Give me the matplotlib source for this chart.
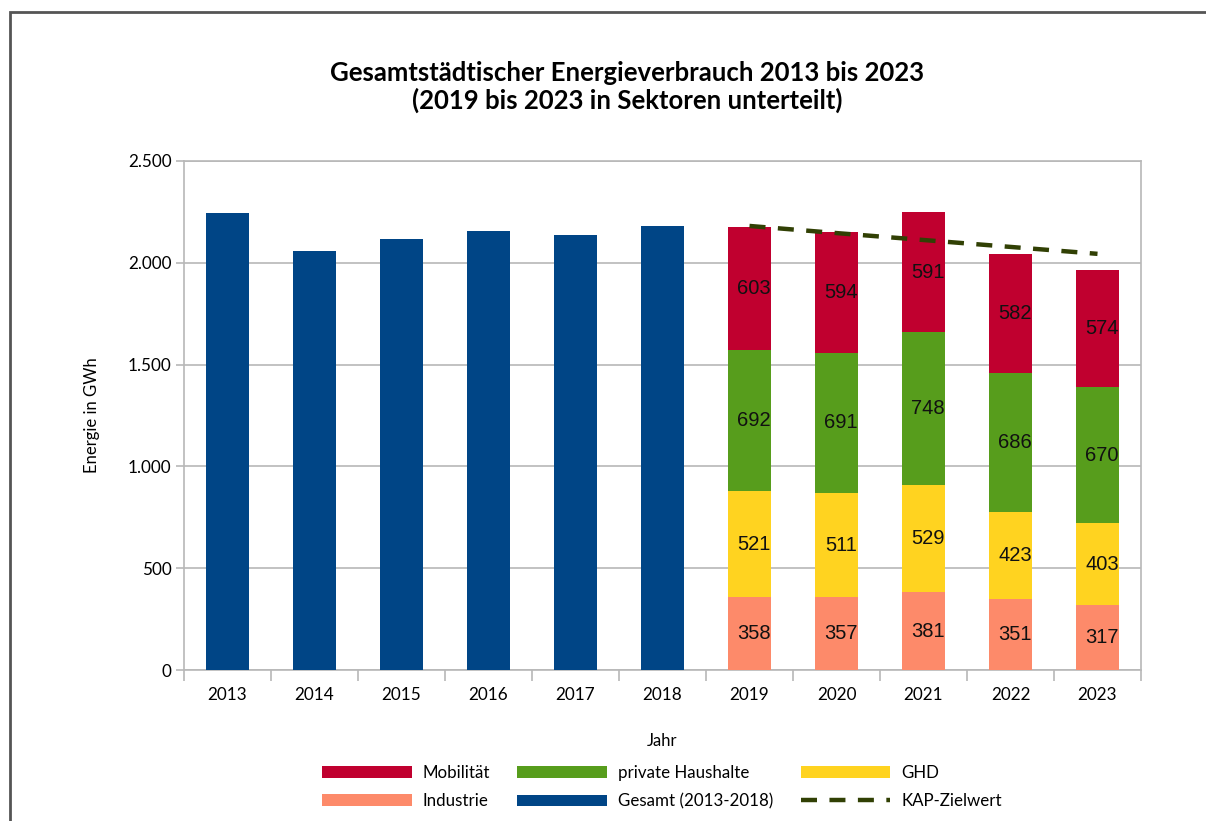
import matplotlib.pyplot as plt
from matplotlib.patches import Patch, Rectangle
from matplotlib.lines import Line2D
from matplotlib.ticker import FuncFormatter, FixedLocator

years = ["2013", "2014", "2015", "2016", "2017", "2018",
         "2019", "2020", "2021", "2022", "2023"]
gesamt = [2245, 2058, 2117, 2156, 2137, 2181]
industrie = [358, 357, 381, 351, 317]
ghd = [521, 511, 529, 423, 403]
haushalte = [692, 691, 748, 686, 670]
mobilitaet = [603, 594, 591, 582, 574]
kap_ziel = [2181, 2146, 2112, 2078, 2044]

c_mob = "#c0002f"
c_hh = "#579d1c"
c_ghd = "#ffd320"
c_ind = "#fd8a6a"
c_ges = "#004586"
c_kap = "#314004"
grid_c = "#b8b8b8"

plt.rcParams["font.family"] = ["Lato", "DejaVu Sans"]

fig = plt.figure(figsize=(12.06, 8.21), dpi=100)
ax = fig.add_axes([184 / 1206, 151 / 821, 957 / 1206, 509 / 821])

x_old = list(range(len(gesamt)))
x_new = list(range(len(gesamt), len(years)))
w = 0.5

ax.bar(x_old, gesamt, w, color=c_ges, zorder=3)

bottom = [0] * len(x_new)
for vals, col in [(industrie, c_ind), (ghd, c_ghd), (haushalte, c_hh), (mobilitaet, c_mob)]:
    ax.bar(x_new, vals, w, bottom=bottom, color=col, zorder=3)
    for xi, b, v in zip(x_new, bottom, vals):
        ax.text(xi + 0.05, b + v / 2, str(v), ha="center", va="center",
                fontsize=14.5, family="Liberation Sans", color="#111111", zorder=4)
    bottom = [b + v for b, v in zip(bottom, vals)]

ax.plot(x_new, kap_ziel, color=c_kap, lw=3.2, dashes=(3.6, 2.8),
        solid_capstyle="butt", dash_capstyle="butt", zorder=5)

ax.set_xlim(-0.5, len(years) - 0.5)
ax.set_ylim(0, 2500)
ax.set_yticks([0, 500, 1000, 1500, 2000, 2500])
ax.yaxis.set_major_formatter(FuncFormatter(lambda v, p: f"{int(v):,}".replace(",", ".")))
ax.grid(axis="y", color=grid_c, lw=1.2, zorder=0)

ax.set_xticks(range(len(years)))
ax.set_xticklabels(years)
ax.xaxis.set_minor_locator(FixedLocator([i - 0.5 for i in range(len(years) + 1)]))
ax.tick_params(axis="x", which="major", length=0, pad=12, labelsize=12.3)
ax.tick_params(axis="x", which="minor", length=8, color=grid_c, width=1.2)
ax.tick_params(axis="y", length=6, color=grid_c, width=1.2, labelsize=12.3, pad=3)

for s in ax.spines.values():
    s.set_color(grid_c)
    s.set_linewidth(1.2)

ax.set_xlabel("Jahr", fontsize=12, labelpad=22)
ax.set_ylabel("Energie in GWh", fontsize=12, labelpad=20)

fig.text(627 / 1206, 1 - 87 / 821,
         "Gesamtstädtischer Energieverbrauch 2013 bis 2023\n(2019 bis 2023 in Sektoren unterteilt)",
         ha="center", va="center", fontsize=18.5, fontweight="bold", linespacing=1.15)

handles = [
    Patch(facecolor=c_mob, label="Mobilität"),
    Patch(facecolor=c_ind, label="Industrie"),
    Patch(facecolor=c_hh, label="private Haushalte"),
    Patch(facecolor=c_ges, label="Gesamt (2013-2018)"),
    Patch(facecolor=c_ghd, label="GHD"),
    Line2D([0], [0], color=c_kap, lw=3.2, dashes=(3.6, 2.8), label="KAP-Zielwert"),
]
fig.legend(handles=handles, ncol=3, loc="center", bbox_to_anchor=(662 / 1206, 34 / 821),
           frameon=False, fontsize=12.2, handlelength=5.3, handleheight=0.7,
           handletextpad=0.65, columnspacing=1.6, labelspacing=0.75)

fig.patches.append(Rectangle((10 / 1206, -0.1), 1.2, 0.1 + (821 - 12) / 821,
                             transform=fig.transFigure, fill=False,
                             edgecolor="#555555", lw=2, zorder=10))

fig.savefig("out.png", dpi=100)
